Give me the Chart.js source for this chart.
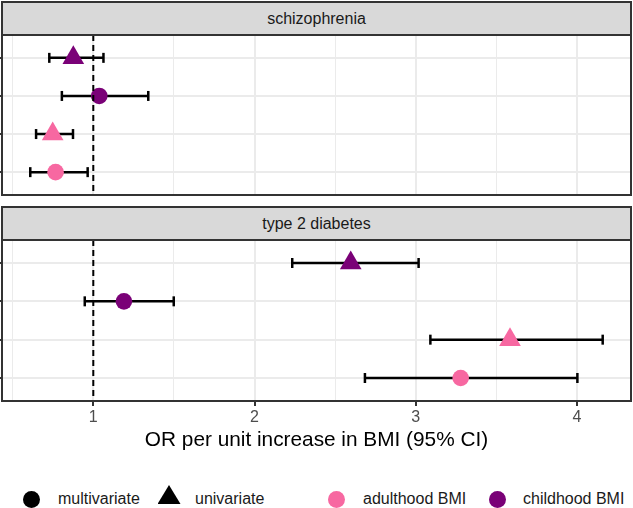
<!DOCTYPE html>
<html>
<head>
<meta charset="utf-8">
<script src="https://cdn.jsdelivr.net/npm/chart.js@4.4.1/dist/chart.umd.min.js"></script>
<style>
body { margin:0; background:#fff; font-family:"Liberation Sans", Arial, sans-serif; }
#wrap { position:relative; width:633px; height:508px; overflow:hidden; }
.strip { position:absolute; left:1px; width:631px; height:35px; box-sizing:border-box; border:2px solid #333; background:#D9D9D9; color:#1A1A1A; font-size:16px; display:flex; align-items:center; justify-content:center; }
canvas { position:absolute; left:0; }
.key { position:absolute; top:489px; font-size:16px; line-height:20px; color:#1A1A1A; white-space:nowrap; }
.sym { position:absolute; }
</style>
</head>
<body>
<div id="wrap">
  <div class="strip" id="strip0" style="top:1px"></div>
  <canvas id="panel0" width="633" height="162" style="top:35px"></canvas>
  <div class="strip" id="strip1" style="top:206px"></div>
  <canvas id="panel1" width="633" height="215" style="top:240px"></canvas>
  <div id="legend"></div>
</div>
<script>
// facets
var outcomes = ['schizophrenia', 'type 2 diabetes'];

// rows, top to bottom
var exposure = ['childhood BMI', 'childhood BMI', 'adulthood BMI', 'adulthood BMI'];
var model = ['univariate', 'multivariate', 'univariate', 'multivariate'];

// odds ratios with 95% CI
var sczOR = [0.876, 1.037, 0.748, 0.766];
var sczLo = [0.727, 0.805, 0.645, 0.609];
var sczHi = [1.063, 1.341, 0.874, 0.965];

var t2dOR = [2.597, 1.190, 3.585, 3.279];
var t2dLo = [2.234, 0.947, 3.091, 2.685];
var t2dHi = [3.018, 1.499, 4.160, 4.003];

// x axis
var xMajor = [1, 2, 3, 4];
var xMinor = [0.5, 1.5, 2.5, 3.5];
var xMin = 0.4336;
var xMax = 4.3356;
var refLine = 1;

var colours = { 'adulthood BMI': '#F768A1', 'childhood BMI': '#7A0177' };
var shapes = { 'multivariate': 'circle', 'univariate': 'triangle' };
var sizes = { 'multivariate': 8.3, 'univariate': 12.5 };

var panelBorder = {
  id: 'panelBorder',
  afterDraw(chart) {
    const a = chart.chartArea;
    const ctx = chart.ctx;
    ctx.save();
    ctx.strokeStyle = '#333333';
    ctx.lineWidth = 2;
    ctx.strokeRect(a.left, a.top, a.right - a.left, a.bottom - a.top);
    ctx.restore();
  }
};

function MakePanel(canvasId, orVals, loVals, hiVals, showAxis)
{
  let datasets = [];

  // reference line at OR = 1
  datasets.push({
    data: [{ x: refLine, y: 0.4 }, { x: refLine, y: 4.6 }],
    showLine: true,
    borderColor: '#000',
    borderWidth: 2,
    borderDash: [6, 4],
    pointRadius: 0,
    order: 0
  });

  // the estimates
  datasets.push({
    data: orVals.map((v, i) => ({ x: v, y: i + 1 })),
    pointStyle: model.map(m => shapes[m]),
    pointRadius: model.map(m => sizes[m]),
    pointBackgroundColor: exposure.map(e => colours[e]),
    pointBorderWidth: 0,
    order: 1
  });

  // error bars, caps are rotated line points
  for (let i = 0; i < orVals.length; i++)
  {
    datasets.push({
      data: [{ x: loVals[i], y: i + 1 }, { x: hiVals[i], y: i + 1 }],
      showLine: true,
      borderColor: '#000',
      borderWidth: 2.5,
      pointStyle: 'line',
      pointRotation: 90,
      pointRadius: 5,
      pointBorderWidth: 2.5,
      pointBorderColor: '#000',
      order: 2
    });
  }

  let xTicks = xMinor.concat(xMajor).sort((a, b) => a - b);

  new Chart(canvasId, {
    type: 'scatter',
    data: { datasets: datasets },
    options: {
      responsive: false,
      animation: false,
      events: [],
      layout: { padding: { right: 2 }, autoPadding: false },
      plugins: { legend: { display: false }, tooltip: { enabled: false } },
      scales: {
        x: {
          type: 'linear',
          min: xMin,
          max: xMax,
          afterBuildTicks: (s) => { s.ticks = xTicks.map(v => ({ value: v })); },
          afterFit: (s) => { s.height = showAxis ? 54 : 2; },
          border: { display: false },
          grid: {
            color: '#EBEBEB',
            lineWidth: (c) => xMajor.includes(c.tick.value) ? 2 : 1,
            drawTicks: showAxis,
            tickLength: 5,
            tickWidth: 2,
            tickColor: (c) => xMajor.includes(c.tick.value) ? '#333333' : 'rgba(0,0,0,0)'
          },
          ticks: {
            display: showAxis,
            padding: 2,
            color: '#4D4D4D',
            font: { family: '"Liberation Sans", Arial, sans-serif', size: 16 },
            callback: (v) => xMajor.includes(v) ? String(v) : ''
          },
          title: {
            display: showAxis,
            text: 'OR per unit increase in BMI (95% CI)',
            color: '#000',
            padding: { top: 0, bottom: 2.5 },
            font: { family: '"Liberation Sans", Arial, sans-serif', size: 20.8 }
          }
        },
        y: {
          type: 'linear',
          min: 0.4,
          max: 4.6,
          reverse: true,
          afterBuildTicks: (s) => { s.ticks = orVals.map((v, i) => ({ value: i + 1 })); },
          border: { display: false },
          grid: { color: '#EBEBEB', lineWidth: 2, tickLength: 2, tickWidth: 2, tickColor: '#333333' },
          ticks: { display: false }
        }
      }
    },
    plugins: [panelBorder]
  });
}

function BuildLegend()
{
  const legend = document.getElementById('legend');
  let html = '';
  // shape key
  let shapeKeys = ['multivariate', 'univariate'];
  let shapeX = [31.7, 169];
  let shapeText = [58, 195];
  for (let i = 0; i < shapeKeys.length; i++)
  {
    if (shapes[shapeKeys[i]] == 'circle')
      html += '<div class="sym" style="left:' + (shapeX[i] - 8.5) + 'px;top:490.5px;width:17px;height:17px;border-radius:50%;background:#000"></div>';
    else
      html += '<div class="sym" style="left:' + (shapeX[i] - 11.5) + 'px;top:485px;width:23px;height:19px;background:#000;clip-path:polygon(50% 0,100% 100%,0 100%)"></div>';
    html += '<div class="key" style="left:' + shapeText[i] + 'px">' + shapeKeys[i] + '</div>';
  }
  // colour key
  let colourKeys = ['adulthood BMI', 'childhood BMI'];
  let colourX = [336, 497];
  let colourText = [363, 523];
  for (let i = 0; i < colourKeys.length; i++)
  {
    html += '<div class="sym" style="left:' + (colourX[i] - 8.5) + 'px;top:490.5px;width:17px;height:17px;border-radius:50%;background:' + colours[colourKeys[i]] + '"></div>';
    html += '<div class="key" style="left:' + colourText[i] + 'px">' + colourKeys[i] + '</div>';
  }
  legend.innerHTML = html;
}

document.getElementById('strip0').textContent = outcomes[0];
document.getElementById('strip1').textContent = outcomes[1];
MakePanel('panel0', sczOR, sczLo, sczHi, false);
MakePanel('panel1', t2dOR, t2dLo, t2dHi, true);
BuildLegend();
</script>
</body>
</html>
